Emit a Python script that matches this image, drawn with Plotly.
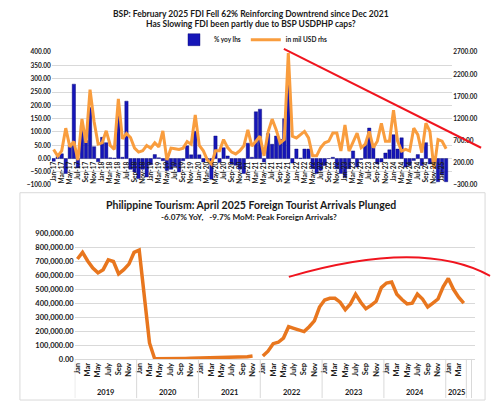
import plotly.graph_objects as go

# ---------------- Top chart data (BSP FDI) ----------------
MONTHS = ["Jan", "Feb", "Mar", "Apr", "May", "Jun", "Jul", "Aug", "Sep", "Oct", "Nov", "Dec"]
FDI_YEARS = ["17", "18", "19", "20", "21", "22", "23", "24", "25"]
fdi_labels = [f"{m}-{y}" for y in FDI_YEARS for m in MONTHS][:98]   # Jan-17 .. Feb-25

fdi_yoy = [
    -10, 8, 18, -56, 52, 280, -35, 125, 68, 192, 45, -12,      # 2017
    80, 60, 3, 2, 165, 5, 216, -40, -50, -75, -40, -69,        # 2018
    -23, 15, 3, -8, -45, -40, -30, -50, -8, 48, 14, 103,       # 2019
    14, -13, -5, -78, 85, -15, 41, 10, -20, -25, -40, -56,     # 2020
    58, 5, 176, 186, -13, 94, 54, 85, 72, 150, 290, -17,       # 2021
    36, 2, 36, 36, -38, -56, -44, -26, 0, 5, -38, -56,         # 2022
    -71, -38, 29, -32, -3, 54, 115, 54, -20, -13, 21, 33,      # 2023
    90, 36, 78, -32, -26, -7, 15, -26, 60, -20, -20, -87,      # 2024
    -62, -87,                                                  # 2025
]
fdi_usd = [
    506, 356, 476, 986, 566, 686, 266, 1196, 656, 1856, 1136, 626,     # 2017
    656, 926, 596, 506, 1646, 746, 866, 776, 536, 446, 476, 596,       # 2018
    536, 656, 566, 926, 266, 536, 524, 506, 536, 686, 626, 1286,       # 2019
    596, 476, 266, 176, 476, 476, 728, 548, 446, 404, 476, 584,        # 2020
    950, 582, 692, 803, 362, 900, 1190, 950, 656, 730, 2680, 803,      # 2021
    766, 840, 913, 766, 362, 362, 546, 656, 693, 876, 876, 471,        # 2022
    1060, 471, 693, 876, 546, 619, 913, 546, 693, 1097, 693, 693,      # 2023
    1392, 693, 471, 509, 471, 987, 840, 436, 1097, 913, 68, 729,       # 2024
    693, 524,                                                          # 2025
]

# ---------------- Bottom chart data (foreign tourist arrivals) ----------------
TOUR_YEARS = ["2019", "2020", "2021", "2022", "2023", "2024", "2025"]
TOUR_MONTH_LABELS = ["Jan", "Feb", "Mar", "Apr", "May", "Jun", "July", "Aug", "Sep", "Oct", "Nov", "Dec"]
arrivals = [
    719000, 766000, 705000, 654000, 619000, 642000, 712000, 701000, 612000, 642000, 682000, 766000,  # 2019
    783000, 462000, 115000, 2000, 1500, 2000, 2500, 3000, 3500, 4000, 5000, 6000,                    # 2020
    6000, 6500, 7000, 7500, 8000, 9000, 10000, 11000, 13000, 16000, 21000, None,                     # 2021
    21000, 56000, 110000, 120000, 150000, 232000, 220000, 209000, 197000, 232000, 274000, 373000,    # 2022
    424000, 436000, 436000, 408000, 354000, 396000, 466000, 408000, 361000, 385000, 415000, 513000,  # 2023
    546000, 553000, 466000, 427000, 396000, 401000, 466000, 431000, 373000, 401000, 431000, 518000,  # 2024
    579000, 501000, 444000, 401000,                                                                  # 2025
]
n_tour = len(arrivals)
tour_month_of = [TOUR_MONTH_LABELS[i % 12] for i in range(n_tour)]

FONT = "Lato"
TXT = "#1a1a1a"
GRID = "#D9D9D9"

fig = go.Figure()

fig.add_trace(go.Bar(
    x=list(range(len(fdi_yoy))), y=fdi_yoy, name="% yoy lhs",
    marker=dict(color="#1616B8", line=dict(color="#00006E", width=0.4)),
    xaxis="x", yaxis="y",
))
fig.add_trace(go.Scatter(
    x=list(range(len(fdi_usd))), y=fdi_usd, name="in mil USD rhs", mode="lines",
    line=dict(color="#F99D3E", width=3),
    xaxis="x", yaxis="y2",
))
fig.add_trace(go.Scatter(
    x=list(range(n_tour)), y=arrivals, mode="lines", showlegend=False,
    line=dict(color="#E8761E", width=3.5), connectgaps=False,
    xaxis="x2", yaxis="y3",
))

def py(px):
    return 1 - px / 406.0

def pxx(px):
    return px / 500.0

tick_font = dict(family=FONT, size=6.5, color=TXT, weight="bold")

shapes = [
    # bottom chart frame
    dict(type="rect", xref="paper", yref="paper", x0=pxx(18), x1=pxx(485), y0=py(405), y1=py(193),
         line=dict(color="#D9D9D9", width=1), layer="below"),
    # top trend line
    dict(type="line", xref="paper", yref="paper", x0=pxx(283), y0=py(46), x1=pxx(481), y1=py(147),
         line=dict(color="#F0141E", width=2)),
    # bottom arc
    dict(type="path", xref="paper", yref="paper",
         path=f"M {pxx(288)},{py(279)} Q {pxx(421)},{py(239.5)} {pxx(490)},{py(278)}",
         line=dict(color="#F0141E", width=1.8)),
]
# year dividers under bottom axis
for b in [12 * k - 0.5 for k in range(len(TOUR_YEARS))] + [n_tour - 0.5, n_tour + 0.5]:
    shapes.append(dict(type="line", xref="x2", yref="paper", x0=b, x1=b, y0=py(403), y1=py(363),
                       line=dict(color="#D9D9D9", width=1)))

def title_ann(text, ypx, size, x=0.5):
    return dict(text=text, x=x, y=py(ypx), xref="paper", yref="paper", showarrow=False,
                xanchor="center", yanchor="middle",
                font=dict(family=FONT, size=size, color=TXT, weight="bold"))

annotations = [
    title_ann("BSP: February 2025 FDI Fell 62% Reinforcing Downtrend since Dec 2021", 10, 8.5),
    title_ann("Has Slowing FDI been partly due to BSP USDPHP caps?", 20.5, 8.5),
    title_ann("Philippine Tourism: April 2025 Foreign Tourist Arrivals Plunged", 206, 10.5),
    title_ann("-6.07% YoY,   -9.7% MoM: Peak Foreign Arrivals?", 218, 8.2, x=0.495),
]
for k, yr in enumerate(TOUR_YEARS):
    start = 12 * k
    end = min(12 * k + 11, n_tour - 1)
    annotations.append(dict(text=yr, x=(start + end) / 2, y=py(397), xref="x2", yref="paper",
                            xanchor="center", yanchor="middle", showarrow=False,
                            font=dict(family=FONT, size=7.5, color=TXT, weight="bold")))

fig.update_layout(
    width=500, height=406, margin=dict(l=0, r=0, t=0, b=0),
    paper_bgcolor="white", plot_bgcolor="white",
    bargap=0.18, showlegend=True,
    legend=dict(orientation="h", x=0.505, xanchor="center", y=py(36.5), yanchor="middle",
                font=dict(family=FONT, size=6.5, color=TXT, weight="bold"), itemwidth=30,
                bgcolor="rgba(0,0,0,0)", tracegroupgap=0),
    xaxis=dict(domain=[pxx(50), pxx(452)], range=[-0.45, 98.5], anchor="free", position=py(159),
               tickvals=list(range(0, len(fdi_labels), 2)), ticktext=fdi_labels[::2],
               tickangle=-90, tickfont=tick_font, showgrid=False, showline=False, zeroline=False,
               ticks=""),
    yaxis=dict(domain=[py(185.3), py(49.3)], range=[-100, 400], dtick=50, tick0=0, tickformat=".2f",
               gridcolor=GRID, gridwidth=1, zeroline=False, tickfont=tick_font, anchor="x",
               showline=False, ticks=""),
    yaxis2=dict(overlaying="y", side="right", range=[-300, 2700], dtick=500, tick0=-300, tickformat=".2f",
                showgrid=False, zeroline=False, tickfont=tick_font, anchor="x", ticks=""),
    xaxis2=dict(domain=[pxx(73), pxx(475)], range=[-0.52, 77.2], anchor="y3",
                tickvals=list(range(0, n_tour, 2)), ticktext=tour_month_of[::2],
                tickangle=-90, tickfont=dict(family=FONT, size=7.5, color=TXT, weight="bold"),
                showgrid=False, zeroline=False, showline=True, linecolor=GRID, ticks=""),
    yaxis3=dict(domain=[py(363), py(235)], range=[0, 900000], dtick=100000, tickformat=",.2f",
                gridcolor=GRID, zeroline=False, anchor="x2", ticks="",
                tickfont=dict(family=FONT, size=7.5, color=TXT, weight="bold")),
    shapes=shapes, annotations=annotations,
)

fig.write_html("out.html")
